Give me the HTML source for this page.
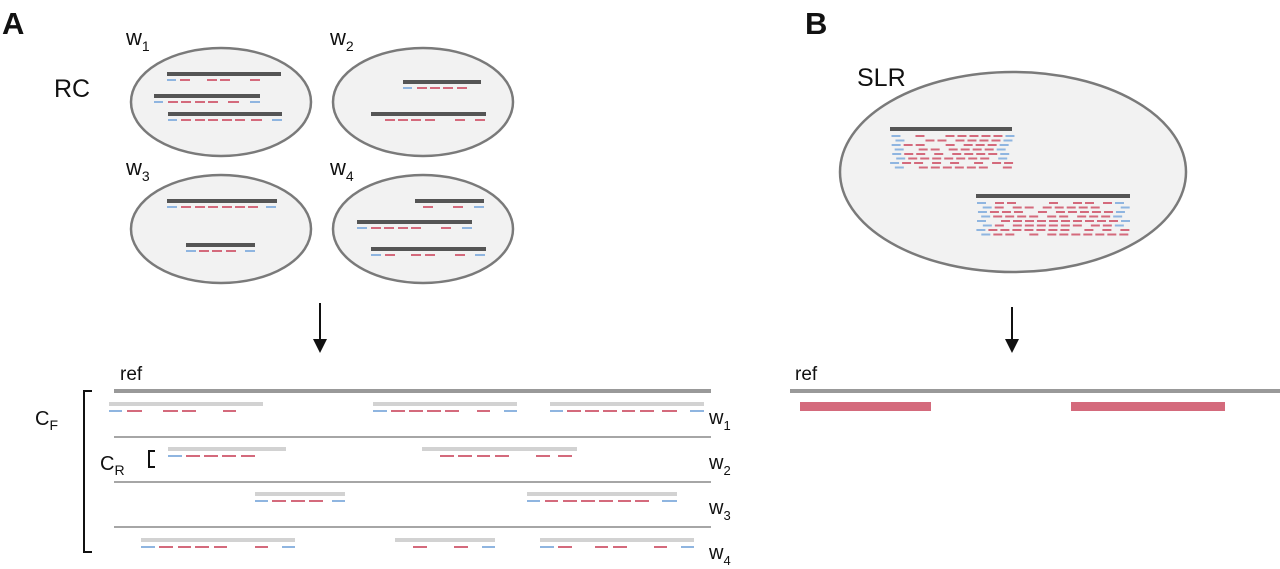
<!DOCTYPE html>
<html><head><meta charset="utf-8"><style>
html,body{margin:0;padding:0;background:#fff;}
svg{display:block;}
text{font-family:"Liberation Sans",Arial,sans-serif;fill:#111;}
</style></head><body>
<svg id="s" width="1280" height="569" viewBox="0 0 1280 569" xmlns="http://www.w3.org/2000/svg">
<text x="2" y="34" font-size="31" font-weight="bold">A</text>
<text x="805" y="34" font-size="31" font-weight="bold">B</text>
<text x="54" y="97" font-size="25">RC</text>
<text x="857" y="86" font-size="25">SLR</text>
<g fill="#f2f2f2" stroke="#7a7a7a" stroke-width="2.5">
<ellipse cx="221" cy="102" rx="90" ry="54"/>
<ellipse cx="423" cy="102" rx="90" ry="54"/>
<ellipse cx="221" cy="229" rx="90" ry="54"/>
<ellipse cx="423" cy="229" rx="90" ry="54"/>
<ellipse cx="1013" cy="172" rx="173" ry="100"/>
</g>
<text x="126" y="45" font-size="22">w<tspan font-size="14" dy="6">1</tspan></text>
<text x="330" y="45" font-size="22">w<tspan font-size="14" dy="6">2</tspan></text>
<text x="126" y="175" font-size="22">w<tspan font-size="14" dy="6">3</tspan></text>
<text x="330" y="175" font-size="22">w<tspan font-size="14" dy="6">4</tspan></text>
<g id="g"></g>
<g stroke="#111" stroke-width="2"><line x1="320" y1="303" x2="320" y2="346"/><line x1="1012" y1="307" x2="1012" y2="346"/></g>
<g fill="#111"><polygon points="313,339 327,339 320,353"/><polygon points="1005,339 1019,339 1012,353"/></g>
<text x="120" y="380" font-size="19">ref</text>
<text x="795" y="380" font-size="19">ref</text>
<text x="35" y="425" font-size="20">C<tspan font-size="14" dy="5">F</tspan></text>
<text x="100" y="470" font-size="20">C<tspan font-size="14" dy="5">R</tspan></text>
<text x="709" y="424" font-size="20">w<tspan font-size="13" dy="6">1</tspan></text>
<text x="709" y="469" font-size="20">w<tspan font-size="13" dy="6">2</tspan></text>
<text x="709" y="514" font-size="20">w<tspan font-size="13" dy="6">3</tspan></text>
<text x="709" y="559" font-size="20">w<tspan font-size="13" dy="6">4</tspan></text>
<g fill="none" stroke="#111" stroke-width="2">
<polyline points="92,391 84,391 84,552 92,552"/>
<polyline points="155,451 149,451 149,467 155,467"/>
</g>
<g stroke="#999" stroke-width="4"><line x1="114" y1="391" x2="711" y2="391"/><line x1="790" y1="391" x2="1280" y2="391"/></g>
<g stroke="#888" stroke-width="1.5"><line x1="114" y1="437" x2="711" y2="437"/><line x1="114" y1="482" x2="711" y2="482"/><line x1="114" y1="527" x2="711" y2="527"/></g>
<g fill="#d46a7c"><rect x="800" y="402" width="131" height="9"/><rect x="1071" y="402" width="154" height="9"/></g>
</svg>
<script>
var g=document.getElementById('g'),NS='http://www.w3.org/2000/svg';
function L(x1,x2,y,c,w){var l=document.createElementNS(NS,'line');l.setAttribute('x1',x1);l.setAttribute('x2',x2);l.setAttribute('y1',y);l.setAttribute('y2',y);l.setAttribute('stroke',c);l.setAttribute('stroke-width',w);g.appendChild(l);}
var R='#d46a7c',B='#8fb5e0',D='#555',G='#d2d2d2';
function read(x1,x2,y,bl,rd){L(x1,x2,y,D,4);bl.forEach(function(a){L(a[0],a[1],y+6,B,2);});rd.forEach(function(a){L(a[0],a[1],y+6,R,2);});}
read(167,281,74,[[167,176]],[[180,190],[207,217],[220,230],[250,260]]);
read(154,260,96,[[154,163],[250,260]],[[168,178],[181,191],[195,205],[208,218],[228,239]]);
read(168,282,114,[[168,177],[272,282]],[[181,191],[195,205],[208,218],[222,232],[235,245],[251,262]]);
read(403,481,82,[[403,412]],[[417,427],[430,440],[443,453],[457,467]]);
read(371,486,114,[],[[385,395],[398,408],[411,421],[425,435],[455,465],[475,485]]);
read(167,277,201,[[167,177],[266,276]],[[181,191],[195,205],[208,218],[222,232],[235,245],[248,258]]);
read(186,255,245,[[186,196],[245,255]],[[199,209],[212,222],[226,236]]);
read(415,484,201,[[474,484]],[[423,433],[453,463]]);
read(357,472,222,[[357,367],[462,472]],[[371,381],[384,394],[398,408],[411,421],[441,451]]);
read(371,486,249,[[371,381],[475,485]],[[385,395],[411,421],[425,435],[455,465]]);
function row(y,bars,bl,rd){bars.forEach(function(a){L(a[0],a[1],y,G,4);});bl.forEach(function(a){L(a[0],a[1],y+7,B,2);});rd.forEach(function(a){L(a[0],a[1],y+7,R,2);});}
row(404,[[109,263],[373,517],[550,704]],[[109,122],[373,387],[504,517],[550,563],[690,704]],
 [[127,142],[163,178],[182,196],[223,236],[391,405],[409,423],[427,441],[445,459],[477,490],[567,581],[585,599],[603,617],[622,635],[640,654],[662,677]]);
row(449,[[168,286],[422,577]],[[168,182]],[[186,200],[204,218],[222,236],[241,255],[440,454],[458,472],[477,490],[495,509],[536,550],[558,572]]);
row(494,[[255,345],[527,677]],[[255,268],[332,345],[527,540],[662,677]],[[272,286],[291,305],[309,323],[545,558],[563,577],[581,595],[599,613],[618,631],[635,649]]);
row(540,[[141,295],[395,495],[540,694]],[[141,155],[282,295],[482,495],[540,554],[681,694]],[[159,173],[178,191],[195,209],[214,227],[255,268],[413,427],[454,468],[558,572],[595,608],[613,627],[654,667]]);
var seed=7;function rnd(){seed=(seed*9301+49297)%233280;return seed/233280;}
function pile(x1,x2,y,rows){L(x1,x2,y,D,4);for(var r=0;r<rows;r++){var yy=y+7+r*4.5;var x=x1+(r%2?4:0)+rnd()*3;var first=true;
 while(x+9<=x2+4){var isEnd=first||x+22>x2+4;var edge=(r<rows-2)||first;
  if(isEnd&&edge){L(x,x+9,yy,B,2);}else if(rnd()>0.12){L(x,x+9,yy,R,2);} first=false;x+=12+(rnd()>0.8?6:0);}}}
pile(890,1012,129,8);
pile(976,1130,196,8);
</script>
</body></html>
